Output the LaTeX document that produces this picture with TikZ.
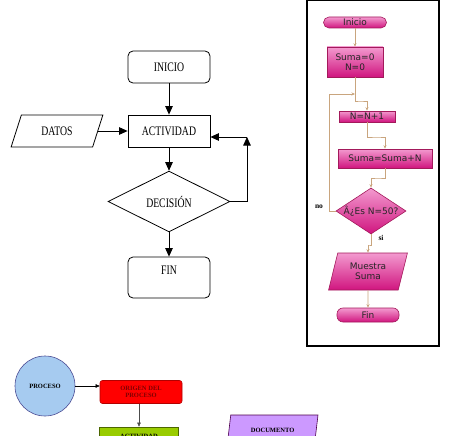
\documentclass[tikz,border=0pt]{standalone}
\usepackage{fontspec}
\setmainfont{Liberation Serif}
\newfontfamily\panelfont{DejaVu Sans}
\usetikzlibrary{arrows.meta, positioning, shapes.geometric}

\definecolor{linktan}{HTML}{C9A57E}
\definecolor{pinktop}{HTML}{F39ACF}
\definecolor{pinkbot}{HTML}{D0157F}
\definecolor{pinkline}{HTML}{A3195B}
\definecolor{procblue}{HTML}{A6CBF0}
\definecolor{actgreen}{HTML}{99CC00}
\definecolor{docviolet}{HTML}{CC99FF}

\newcommand{\squeeze}[1]{\scalebox{0.75}[1]{#1}}

\tikzset{
    box/.style={draw, line width=0.8pt, minimum width=82pt, minimum height=32pt,
        inner sep=1pt, font=\fontsize{13}{15}\selectfont},
    term/.style={box, rounded corners=5pt},
    arr/.style={line width=0.8pt, -{Triangle[length=8.5pt,width=7.5pt]}},
    pinkbox/.style={draw=pinkline, line width=0.6pt, top color=pinktop, bottom color=pinkbot,
        inner sep=1pt, align=center, text=black!85, font=\panelfont\fontsize{9}{10.5}\selectfont},
    flow/.style={draw=linktan, line width=0.6pt, -{Stealth[length=3.5pt,width=3pt]}},
    small/.style={font=\bfseries\fontsize{6.5}{7.5}\selectfont, align=center, inner sep=0pt}
}

\begin{document}
\begin{tikzpicture}[x=1pt, y=-1pt]

    \useasboundingbox (0,0) rectangle (474,436);
    \clip (0,0) rectangle (474,436);

    % LEFT CHART
    \node[term] (inicio) at (169,67) {\squeeze{INICIO}};
    \node[box] (act1) at (169,131) {\squeeze{ACTIVIDAD}};
    \node[box, trapezium, trapezium left angle=66, trapezium right angle=114,
        trapezium stretches=true, minimum width=92pt] (datos) at (57,131) {\squeeze{DATOS}};
    \node[box, diamond, minimum width=122pt, minimum height=43pt] (dec1) at (169,201.5) {\squeeze{DECISIÓN}};
    \node[term, minimum height=41pt, text depth=15pt] (fin1) at (169,277.5) {\squeeze{FIN}};
    \coordinate (c1) at (247,137);

    \draw[arr] (inicio) -- (act1);
    \draw[arr] (datos) -- (act1);
    \draw[arr] (act1) -- (dec1);
    \draw[arr] (dec1) -- (fin1);
    \draw[arr] (dec1) -| (c1);
    \draw[arr] (c1) -- (c1 -| act1.east);

    % RIGHT PANEL
    \draw[line width=1.2pt] (307,0.8) rectangle (439,346);

    \node[pinkbox, rounded corners=5.5pt, minimum width=63pt, minimum height=11pt] (ini) at (355,22.5) {Inicio};
    \node[pinkbox, minimum width=56pt, minimum height=30pt] (s0) at (355,62) {Suma=0\\N=0};
    \node[pinkbox, minimum width=56pt, minimum height=11pt] (n1) at (367,116.5) {N=N+1};
    \node[pinkbox, minimum width=94pt, minimum height=19pt] (s1) at (385,158.5) {Suma=Suma+N};
    \node[pinkbox, diamond, aspect=1.52, inner sep=0pt, minimum width=70pt, minimum height=46pt] (dec) at (371,211) {Â¿Es N=50?};
    \node[pinkbox, trapezium, trapezium left angle=73, trapezium right angle=107,
        trapezium stretches=true, minimum width=79pt, minimum height=37pt] (muestra) at (368,271.5) {Muestra\\Suma};
    \node[pinkbox, rounded corners=6pt, minimum width=62pt, minimum height=14pt] (fin) at (368,315) {Fin};

    \coordinate (j1) at (360,101);
    \coordinate (j2) at (377,137);
    \coordinate (j3) at (378,178);
    \coordinate (j4) at (369,245);
    \coordinate (lp) at (329,94);
    \coordinate (back) at (355,94);

    \draw[flow] (ini) -- (s0);
    \draw[flow] (s0) |- (j1) -| (n1);
    \draw[flow] (n1) |- (j2) -| (s1);
    \draw[flow] (s1) |- (j3) -| (dec);
    \draw[flow] (dec) |- (j4) -| (muestra);
    \draw[flow] (muestra) -- (fin);
    \draw[flow] (dec) -| (lp) -- (back);

    \node[small, font=\bfseries\fontsize{7.5}{8}\selectfont] (nolbl) at (319,207) {no};
    \node[small, font=\bfseries\fontsize{7.5}{8}\selectfont] (silbl) at (381,238) {si};

    % BOTTOM SHAPES
    \node[circle, draw=blue!40!black!70, line width=0.6pt, fill=procblue, minimum size=60pt,
        small] (proceso) at (45,386) {PROCESO};
    \node[draw=red!70!black, line width=0.6pt, fill=red, rounded corners=2.5pt,
        minimum width=82pt, minimum height=23pt, small, text=red!50!black] (origen) at (141,392) {ORIGEN DEL\\PROCESO};
    \node[draw=actgreen!50!black, line width=0.6pt, fill=actgreen, minimum width=79pt,
        minimum height=18pt, small] (act2) at (139,436) {ACTIVIDAD};
    \node[trapezium, trapezium left angle=67, trapezium right angle=113, trapezium stretches=true,
        draw=violet!60!black, line width=0.6pt, fill=docviolet, minimum width=91pt,
        minimum height=30pt, small] (doc) at (272.6,430) {DOCUMENTO};

    \draw[-{Triangle[length=4pt,width=3.5pt]}, line width=0.5pt] (proceso.east) -- (proceso.east -| origen.west);
    \draw[-{Triangle[length=4pt,width=3.5pt]}, line width=0.5pt, black!70] (origen.south -| act2.north) -- (act2.north);

\end{tikzpicture}
\end{document}
